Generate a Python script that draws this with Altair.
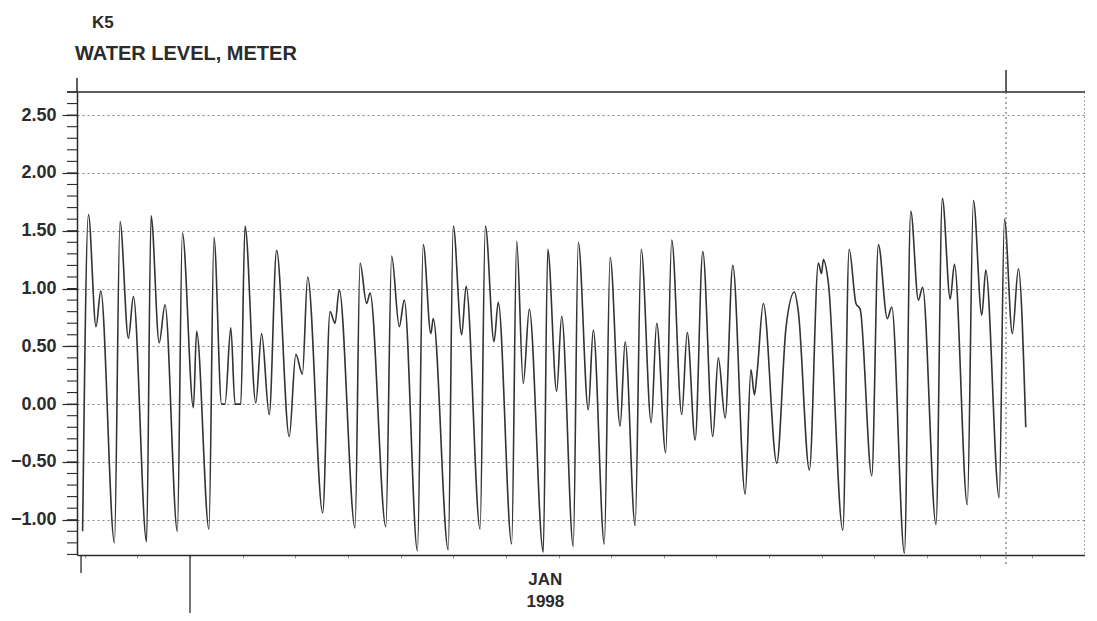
import altair as alt
import pandas as pd
import numpy as np

# time in days from 1 Jan 1998 00:00, water level in metres
day = [-4.08,-3.86,-3.57,-3.39,-2.87,-2.66,-2.34,-2.15,-1.65,-1.48,-1.17,-0.95,-0.48,-0.29,
       0.13,0.25,0.72,0.91,1.20,1.33,1.55,1.71,1.93,2.09,2.50,2.72,3.01,3.29,3.77,4.02,4.27,4.47,
       5.04,5.32,5.51,5.67,6.27,6.46,6.71,6.84,7.44,7.66,7.95,8.14,8.64,8.86,9.15,9.24,9.81,10.00,
       10.32,10.49,11.02,11.22,11.55,11.71,12.22,12.41,12.66,12.89,13.42,13.59,13.93,14.12,14.56,
       14.75,15.13,15.32,15.74,15.96,16.34,16.53,16.91,17.14,17.52,17.73,18.07,18.30,18.68,18.89,
       19.19,19.48,19.86,20.07,20.33,20.62,21.09,21.31,21.44,21.55,21.78,22.29,22.64,22.96,23.11,
       23.53,23.87,23.99,24.06,24.25,24.80,25.04,25.30,25.46,25.90,26.15,26.49,26.66,27.14,27.38,
       27.67,27.83,28.34,28.58,28.88,29.04,29.53,29.76,30.08,30.23,30.74,30.94,31.24,31.47,31.75]
level = [-1.10,1.64,0.67,0.98,-1.20,1.58,0.57,0.93,-1.19,1.63,0.53,0.86,-1.10,1.48,
         -0.03,0.63,-1.08,1.44,0.00,0.00,0.66,0.00,0.00,1.54,0.01,0.61,-0.09,1.33,-0.28,0.43,0.26,1.10,
         -0.94,0.80,0.70,0.99,-1.07,1.22,0.87,0.96,-1.06,1.28,0.67,0.90,-1.27,1.38,0.61,0.74,-1.26,1.54,
         0.60,1.02,-1.08,1.54,0.54,0.88,-1.21,1.41,0.18,0.82,-1.28,1.34,0.11,0.76,-1.23,
         1.40,-0.05,0.64,-1.21,1.27,-0.19,0.54,-1.05,1.34,-0.16,0.70,-0.42,1.42,-0.09,0.62,
         -0.31,1.32,-0.28,0.40,-0.12,1.20,-0.78,0.30,0.08,0.29,0.87,-0.51,0.66,0.97,0.80,
         -0.57,1.22,1.13,1.25,1.05,-1.09,1.34,0.87,0.82,-0.62,1.38,0.74,0.84,-1.29,1.67,
         0.90,1.01,-1.04,1.78,0.91,1.21,-0.87,1.76,0.77,1.16,-0.81,1.60,0.61,1.17,-0.20]
assert len(day) == len(level)

major_ticks = [-1.0, -0.5, 0.0, 0.5, 1.0, 1.5, 2.0, 2.5]
minor_ticks = [round(v, 1) for v in np.arange(-1.3, 2.71, 0.1)]
day_ticks = list(range(-4, 34))
month_marks = [0, 31]          # 1 Jan, 1 Feb
month_label = ["JAN\n1998"]
month_label_day = [13.5]

X_DOMAIN = [-4.293, 34.0]
Y_DOMAIN = [-1.305, 2.70]
W, H = 1008, 463
FONT = "Liberation Sans"
INK = "#2b2b2b"

xs = alt.Scale(domain=X_DOMAIN, nice=False, zero=False)
ys = alt.Scale(domain=Y_DOMAIN, nice=False, zero=False)

df = pd.DataFrame({"day": day, "level": level})

line = alt.Chart(df).mark_line(color="#333333", strokeWidth=1.6, interpolate="monotone").encode(
    x=alt.X("day:Q", scale=xs,
            axis=alt.Axis(title="", labels=False, values=day_ticks, tickSize=3,
                          tickColor="#999999", domainColor=INK, domainWidth=1.5, grid=False)),
    y=alt.Y("level:Q", scale=ys,
            axis=alt.Axis(title="", values=major_ticks, format=".2f", labelFont=FONT,
                          labelFontSize=18, labelFontWeight="bold", labelColor=INK,
                          labelPadding=6, tickSize=15, tickColor=INK, tickWidth=1.2,
                          domainColor=INK, domainWidth=1.5, grid=True, gridColor="#777777",
                          gridDash=[2, 3], gridWidth=1, gridOpacity=0.9)),
)

minor = alt.Chart(pd.DataFrame({"v": minor_ticks})).mark_rule(color=INK, strokeWidth=1.1).encode(
    y=alt.Y("v:Q", scale=ys), x=alt.value(-10), x2=alt.value(0))

top_border = alt.Chart(pd.DataFrame({"a": [0]})).mark_rule(color=INK, strokeWidth=1.5).encode(
    x=alt.value(-10), x2=alt.value(W), y=alt.value(0))
right_border = alt.Chart(pd.DataFrame({"a": [0]})).mark_rule(color="#555555", strokeWidth=1, strokeDash=[2, 2]).encode(
    x=alt.value(W), y=alt.value(0), y2=alt.value(H))
left_ext = alt.Chart(pd.DataFrame({"a": [0]})).mark_rule(color=INK, strokeWidth=1.5).encode(
    x=alt.value(0), y=alt.value(-14), y2=alt.value(0))

mdf = pd.DataFrame({"d": month_marks})
feb_dotted = alt.Chart(mdf[mdf.d == 31]).mark_rule(color="#555555", strokeWidth=1, strokeDash=[2, 3]).encode(
    x=alt.X("d:Q", scale=xs), y=alt.value(0), y2=alt.value(H + 12))
feb_solid = alt.Chart(mdf[mdf.d == 31]).mark_rule(color=INK, strokeWidth=1.5).encode(
    x=alt.X("d:Q", scale=xs), y=alt.value(-22), y2=alt.value(0))
jan_tick = alt.Chart(mdf[mdf.d == 0]).mark_rule(color=INK, strokeWidth=1.3).encode(
    x=alt.X("d:Q", scale=xs), y=alt.value(H), y2=alt.value(H + 70))
start_tick = alt.Chart(pd.DataFrame({"d": [day[0] - 0.06]})).mark_rule(color=INK, strokeWidth=1.3).encode(
    x=alt.X("d:Q", scale=xs), y=alt.value(H), y2=alt.value(H + 18))

month_text = alt.Chart(pd.DataFrame({"d": month_label_day, "t": month_label})).mark_text(
    font=FONT, fontSize=17, fontWeight="bold", color=INK, lineBreak="\n", lineHeight=22,
    align="center", baseline="alphabetic").encode(
    x=alt.X("d:Q", scale=xs), y=alt.value(H + 30), text="t:N")

k5 = alt.Chart(pd.DataFrame({"t": ["K5"]})).mark_text(
    font=FONT, fontSize=17, fontWeight="bold", color=INK, align="left", baseline="alphabetic").encode(
    x=alt.value(15), y=alt.value(-64), text="t:N")
ylab = alt.Chart(pd.DataFrame({"t": ["WATER LEVEL, METER"]})).mark_text(
    font=FONT, fontSize=20, fontWeight="bold", color=INK, align="left", baseline="alphabetic").encode(
    x=alt.value(-2), y=alt.value(-32), text="t:N")

chart = alt.layer(
    line, minor, top_border, right_border, left_ext, feb_dotted, feb_solid,
    jan_tick, start_tick, month_text, k5, ylab
).properties(
    width=W, height=H,
    padding={"left": 69, "top": 84, "right": 0, "bottom": 58},
    autosize=alt.AutoSizeParams(type="none"),
    background="white",
).configure_view(stroke=None)

chart.save("out.html", embed_options={"renderer": "svg", "actions": False})
